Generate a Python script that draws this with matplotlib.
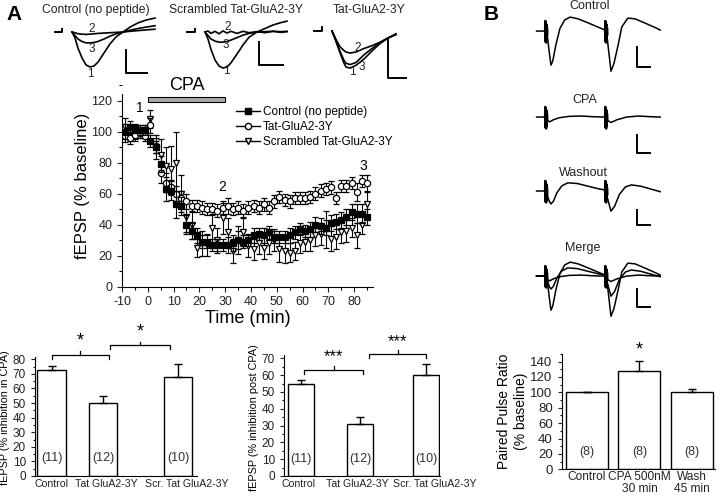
import matplotlib
matplotlib.use('Agg')
import matplotlib.pyplot as plt
from matplotlib.lines import Line2D
from matplotlib.ticker import MultipleLocator

plt.rcParams['font.family'] = ['Liberation Sans', 'DejaVu Sans']
plt.rcParams['axes.unicode_minus'] = False

# ---------------- time course data (A, middle) ----------------
time_min = list(range(-9, 86, 2))
ctrl_vals = [100, 103, 102, 101, 101, 94, 90, 79, 63, 62, 53, 52, 40, 36, 33, 29, 29, 27, 27, 27,
             27, 28, 30, 29, 30, 33, 34, 33, 35, 32, 32, 32, 33, 35, 37, 36, 37, 40, 39, 38,
             41, 42, 43, 45, 48, 47, 47, 45]
ctrl_err = [5, 4, 3, 3, 3, 4, 4, 5, 8, 6, 9, 6, 6, 5, 5, 4, 4, 4, 4, 4,
            5, 5, 6, 4, 4, 5, 4, 5, 4, 4, 4, 4, 5, 4, 4, 4, 5, 5, 5, 5,
            5, 5, 5, 5, 5, 6, 6, 5]
tat_vals = [97, 96, 98, 99, 97, 104, 91, 73, 67, 64, 60, 57, 55, 52, 52, 51, 50, 50, 49, 51,
            52, 50, 51, 49, 51, 52, 51, 53, 51, 55, 58, 56, 55, 57, 57, 57, 58, 60, 62, 63,
            64, 57, 65, 65, 67, 61, 68, 67]
tat_err = [4, 4, 3, 3, 3, 5, 5, 6, 6, 5, 5, 5, 5, 4, 4, 4, 4, 4, 4, 4,
           5, 4, 4, 4, 4, 4, 4, 4, 4, 4, 4, 4, 4, 4, 4, 4, 4, 4, 4, 4,
           4, 4, 4, 4, 4, 6, 4, 5]
scr_vals = [103, 99, 98, 100, 100, 108, 90, 85, 78, 76, 80, 60, 45, 40, 25, 28, 27, 38, 30, 44,
            35, 23, 30, 35, 26, 24, 28, 25, 28, 30, 24, 23, 22, 23, 28, 29, 30, 33, 34, 37,
            31, 32, 35, 36, 38, 33, 40, 53]
scr_err = [6, 5, 4, 4, 4, 6, 8, 10, 12, 15, 20, 12, 10, 9, 6, 8, 7, 9, 8, 10,
           9, 8, 9, 9, 7, 7, 7, 7, 7, 7, 8, 8, 6, 6, 6, 6, 7, 7, 7, 12,
           8, 8, 7, 7, 6, 8, 6, 8]
series_labels = ['Control (no peptide)', 'Tat-GluA2-3Y', 'Scrambled Tat-GluA2-3Y']

# ---------------- bar charts ----------------
bar_groups = ['Control', 'Tat GluA2-3Y', 'Scr. Tat GluA2-3Y']
inhib_in_cpa = [73, 50, 68]
inhib_in_cpa_err = [2.5, 4.5, 9]
inhib_post_cpa = [54.5, 31, 60]
inhib_post_cpa_err = [2.5, 3.8, 6.5]
bar_n = ['(11)', '(12)', '(10)']

ppr_groups = ['Control', 'CPA 500nM\n30 min', 'Wash\n45 min']
ppr_vals = [100, 128, 100]
ppr_err = [0, 13, 5]
ppr_n = ['(8)', '(8)', '(8)']

# ---------------- example traces (A, top): time in ms, voltage in mV ----------------
a_ctrl_t = [0, 0.75, 1.5, 2.5, 3.5, 4.5, 5.5, 6.5, 8, 9.5, 11, 12.75, 14.5, 16.5, 18.5, 20.75]
a_ctrl_1 = [0, -0.17, -0.46, -0.74, -0.94, -1.0, -0.97, -0.86, -0.6, -0.34, -0.14, 0, 0.14, 0.26, 0.34, 0.4]
a_ctrl_2 = [0, -0.02, -0.05, -0.06, -0.07, -0.06, -0.05, -0.04, -0.03, -0.02, -0.01, 0, 0.02, 0.04, 0.06, 0.08]
a_ctrl_3 = [0, -0.1, -0.2, -0.27, -0.31, -0.31, -0.3, -0.27, -0.2, -0.12, -0.05, 0, 0.05, 0.1, 0.14, 0.18]

a_scr_t = [0, 0.75, 1.5, 2.5, 3.5, 4.5, 5.5, 6.5, 8, 9.5, 11, 13, 15, 17, 19, 20.5]
a_scr_1 = [0, -0.2, -0.5, -0.8, -0.97, -1.03, -1.0, -0.88, -0.63, -0.37, -0.15, 0.0, 0.1, 0.2, 0.27, 0.31]
a_scr_2 = [0, 0.03, -0.04, 0.02, -0.05, 0.03, -0.03, 0.02, -0.04, 0.02, -0.02, 0.01, -0.02, 0.02, -0.01, 0.01]
a_scr_3 = [0, -0.1, -0.2, -0.26, -0.29, -0.29, -0.27, -0.23, -0.16, -0.09, -0.04, 0, 0.01, 0.02, 0.01, 0.02]

a_tat_t = [0, 1, 2, 3, 3.5, 4.5, 6, 8, 10, 12, 14, 16]
a_tat_1 = [0, -0.3, -0.62, -0.92, -1.03, -1.06, -0.98, -0.8, -0.57, -0.36, -0.2, -0.08]
a_tat_2 = [0, -0.24, -0.45, -0.56, -0.6, -0.63, -0.6, -0.5, -0.42, -0.32, -0.2, -0.1]
a_tat_3 = [0, -0.28, -0.58, -0.84, -0.92, -0.96, -0.9, -0.68, -0.5, -0.34, -0.2, -0.1]

# ---------------- paired-pulse traces (B): time in ms, voltage in mV ----------------
stim_times = [0, 50]
artifact_dt = [0, 0.25, 0.5, 0.75, 1.0, 1.25, 1.5, 1.75, 2.0]
artifact_v = [0, 0.3, -0.32, 0.25, -0.34, 0.2, -0.26, 0.1, -0.1]

b_ctrl_t = [-7, 0, 2, 3.5, 5, 6.5, 9, 12.5, 16.5, 21, 27.5, 36, 44, 50, 52, 55, 57.5, 61, 64, 69, 75, 83, 92, 96]
b_ctrl_v = [0, 0, -0.15, -0.6, -1.0, -0.88, -0.42, 0.08, 0.33, 0.41, 0.36, 0.24, 0.12, 0.03,
            -0.25, -1.18, -0.95, -0.4, 0.12, 0.38, 0.36, 0.24, 0.1, 0.03]
b_cpa_t = [-7, 0, 2, 4, 7, 12, 20, 30, 40, 50, 52, 55, 60, 68, 78, 88, 96]
b_cpa_v = [0, 0, -0.1, -0.14, -0.08, -0.02, 0.02, 0.03, 0.01, 0, -0.1, -0.16, -0.08, 0.0, 0.03, 0.01, 0]
b_wash_t = [-7, 0, 2, 3.5, 5, 7, 10, 14, 19, 27, 36, 44, 50, 52, 55, 58, 62, 67, 72, 80, 88, 96]
b_wash_v = [0, 0, -0.12, -0.3, -0.38, -0.3, -0.05, 0.15, 0.24, 0.22, 0.14, 0.07, 0.03,
            -0.2, -0.59, -0.45, -0.1, 0.12, 0.18, 0.14, 0.06, -0.02]

W, H = 720, 496
fig = plt.figure(figsize=(W / 100, H / 100), dpi=100)


def px_axes(x0, y0, x1, y1):
    return fig.add_axes([x0 / W, 1 - y1 / H, (x1 - x0) / W, (y1 - y0) / H])


def ftext(x, y, s, **kw):
    fig.text(x / W, 1 - y / H, s, **kw)


# ================= A: traces =================
def trace_inset(box, xlim, ylim, t, traces, nums, stim, bar):
    ax = px_axes(*box)
    ax.set_xlim(*xlim)
    ax.set_ylim(*ylim)
    ax.axis('off')
    for tr in traces:
        ax.plot(t, tr, color='black', lw=1.2)
    for (s, x, y) in nums:
        ax.text(x, y, s, fontsize=8.5, ha='center', va='center', color='#222222')
    sx0, sx1, sy0, sy1 = stim
    ax.plot([sx0, sx1, sx1], [0, 0, sy1], color='black', lw=1.4)
    bx0, bx1, by0, by1 = bar
    ax.plot([bx0, bx0, bx1], [by1, by0, by0], color='black', lw=1.4)
    return ax

trace_inset((50, 15, 160, 80), (-5.5, 22), (-1.371, 0.486), a_ctrl_t,
            [a_ctrl_1, a_ctrl_2, a_ctrl_3],
            [('1', 4.5, -1.2), ('2', 5, 0.1), ('3', 5, -0.49)],
            (-4.25, -2.5, 0, 0.1), (13.5, 18.75, -1.17, -0.51))
trace_inset((183, 15, 293, 80), (-5.5, 22), (-1.371, 0.486), a_scr_t,
            [a_scr_1, a_scr_2, a_scr_3],
            [('1', 5.25, -1.1), ('2', 5.75, 0.14), ('3', 5.25, -0.37)],
            (-4.5, -2.5, 0, 0.1), (13.5, 19.5, -0.94, -0.29))
trace_inset((310, 15, 410, 80), (-5.5, 19.5), (-1.4, 0.457), a_tat_t,
            [a_tat_1, a_tat_2, a_tat_3],
            [('1', 5, -1.17), ('2', 6.5, -0.49), ('3', 7.5, -1.03)],
            (-4.5, -2.5, 0, 0.1), (14, 18.5, -1.34, -0.26))

ftext(96, 10, 'Control (no peptide)', fontsize=8.7, ha='center', va='center', color='#222222')
ftext(236, 10, 'Scrambled Tat-GluA2-3Y', fontsize=8.7, ha='center', va='center', color='#222222')
ftext(333, 10, 'Tat-GluA2-3Y', fontsize=8.7, ha='left', va='center', color='#222222')
ftext(14, 14, 'A', fontsize=15, fontweight='bold', ha='center', va='center')
ftext(491, 14, 'B', fontsize=15, fontweight='bold', ha='center', va='center')

# ================= A: time course =================
ax = px_axes(122, 85, 373, 286.7)
ax.set_xlim(-10, 87.3)
ax.set_ylim(0, 130)
ek = dict(ecolor='black', elinewidth=0.8, capsize=2, capthick=0.8, ls='none', ms=4.5, mew=0.9)
ax.errorbar(time_min, scr_vals, yerr=scr_err, fmt='v', mfc='white', mec='black', zorder=3, **ek)
ax.errorbar(time_min, tat_vals, yerr=tat_err, fmt='o', mfc='white', mec='black', zorder=4, **ek)
ax.errorbar(time_min, ctrl_vals, yerr=ctrl_err, fmt='s', mfc='black', mec='black', zorder=5, **ek)
for s in ['top', 'right']:
    ax.spines[s].set_visible(False)
ax.spines['left'].set_bounds(0, 124)
ax.set_xticks(range(-10, 81, 10))
ax.set_yticks(range(0, 121, 20))
ax.xaxis.set_minor_locator(MultipleLocator(5))
ax.yaxis.set_minor_locator(MultipleLocator(10))
ax.tick_params(labelsize=9, length=3.5, width=0.8, colors='#222222')
ax.tick_params(which='minor', length=2, width=0.8)
ax.set_xlabel('Time (min)', fontsize=13, labelpad=1)
ax.set_ylabel('fEPSP (% baseline)', fontsize=12, labelpad=1)
# CPA application bar
ax.add_patch(plt.Rectangle((0, 119), 30, 3.5, facecolor='#aaaaaa', edgecolor='black', lw=0.8, clip_on=False))
ax.text(15, 124, 'CPA', fontsize=13, ha='center', va='bottom')
ax.text(-3, 115, '1', fontsize=10, ha='center', va='center')
ax.text(29, 64, '2', fontsize=10, ha='center', va='center')
ax.text(83.5, 78, '3', fontsize=10, ha='center', va='center')
handles = [
    Line2D([], [], color='black', lw=1, marker='s', mfc='black', mec='black', ms=4.5),
    Line2D([], [], color='black', lw=1, marker='o', mfc='white', mec='black', ms=4.5),
    Line2D([], [], color='black', lw=1, marker='v', mfc='white', mec='black', ms=4.5),
]
fig.legend(handles, series_labels, loc='upper left', bbox_to_anchor=(236 / W, 1 - 106 / H),
           frameon=False, fontsize=8.5, handlelength=2.0, handletextpad=0.3,
           labelspacing=0.25, borderaxespad=0, borderpad=0)

# ================= A / B: bar charts =================
def bracket(ax, x1, x2, y, d, star, ys, fs):
    xm = (x1 + x2) / 2
    ax.plot([x1, x1, x2, x2], [y - d, y, y, y - d], color='black', lw=0.9, clip_on=False)
    ax.plot([xm, xm], [y, y + d], color='black', lw=0.9, clip_on=False)
    ax.text(xm, ys, star, fontsize=fs, ha='center', va='center', clip_on=False)


def bar_chart(box, pos, vals, errs, width, xlim, ylim, ystep, labels, label_pos, ns, ny,
              ylabel, ylabfs, tickfs, xlabfs):
    ax = px_axes(*box)
    ax.bar(pos, vals, width=width, color='white', edgecolor='black', lw=1.0, zorder=2)
    low = [0 for _ in errs]
    ax.errorbar(pos, vals, yerr=[low, errs], fmt='none', ecolor='black', elinewidth=1.0,
                capsize=3, capthick=1.0, zorder=3)
    ax.set_xlim(*xlim)
    ax.set_ylim(*ylim)
    for s in ['top', 'right']:
        ax.spines[s].set_visible(False)
    ax.set_yticks(range(0, int(ylim[1]) + 1, ystep))
    ax.yaxis.set_minor_locator(MultipleLocator(ystep / 2))
    ax.set_xticks(label_pos)
    ax.set_xticklabels(labels, fontsize=xlabfs, linespacing=1.05)
    ax.tick_params(axis='x', length=0, pad=2)
    ax.tick_params(axis='y', labelsize=tickfs, width=0.8, length=3)
    ax.tick_params(colors='#222222')
    ax.tick_params(which='minor', length=1.5, width=0.8)
    for p, n in zip(pos, ns):
        ax.text(p, ny, n, fontsize=9, ha='center', va='center', color='#333333')
    ax.set_ylabel(ylabel, fontsize=ylabfs, labelpad=2)
    return ax

axl = bar_chart((35, 359.3, 196.7, 476), [0, 0.99, 2.43], inhib_in_cpa, inhib_in_cpa_err, 0.55,
                (-0.32, 2.79), (0, 80), 10, bar_groups, [0, 1.06, 2.6], bar_n, 12,
                'fEPSP (% inhibition in CPA)', 7.8, 8.5, 7.6)
axl.spines['left'].set_bounds(0, 81.5)
bracket(axl, 0, 1.1, 83, 2.5, '*', 92.5, 13)
bracket(axl, 1.12, 2.28, 89.5, 2.5, '*', 99, 13)

axr = bar_chart((284, 358.3, 440.4, 476), [0, 1, 2.12], inhib_post_cpa, inhib_post_cpa_err, 0.44,
                (-0.29, 2.36), (0, 70), 10, bar_groups, [-0.05, 0.95, 2.27], bar_n, 10,
                'fEPSP (% inhibition post CPA)', 7.8, 8.5, 7.6)
axr.spines['left'].set_bounds(0, 72)
bracket(axr, 0.05, 1.05, 63, 2.2, '***', 71, 12)
bracket(axr, 1.15, 2.12, 72.5, 2.2, '***', 80, 12)

# ================= B: traces =================
def pp_inset(box, ylim, traces, bar):
    ax = px_axes(*box)
    ax.set_xlim(-8.3, 100)
    ax.set_ylim(*ylim)
    ax.axis('off')
    for t, v in traces:
        ax.plot(t, v, color='black', lw=1.1)
    for st in stim_times:
        ax.plot([st + d for d in artifact_dt], artifact_v, color='black', lw=1.6)
    bx0, bx1, by0, by1 = bar
    ax.plot([bx0, bx0, bx1], [by1, by0, by0], color='black', lw=1.4)

pp_inset((535, 12, 665, 75), (-1.29, 0.56), [(b_ctrl_t, b_ctrl_v)], (76.7, 87.5, -1.06, -0.47))
pp_inset((535, 100, 665, 160), (-1.26, 0.5), [(b_cpa_t, b_cpa_v)], (76.7, 87.5, -1.06, -0.53))
pp_inset((535, 175, 665, 235), (-1.29, 0.47), [(b_wash_t, b_wash_v)], (76.7, 87.5, -1.0, -0.56))
pp_inset((535, 255, 665, 320), (-1.29, 0.62),
         [(b_ctrl_t, b_ctrl_v), (b_wash_t, b_wash_v), (b_cpa_t, b_cpa_v)], (76.7, 87.5, -0.91, -0.38))
ftext(590, 6, 'Control', fontsize=9, ha='center', va='center', color='#222222')
ftext(585, 100, 'CPA', fontsize=9, ha='center', va='center', color='#222222')
ftext(583, 173, 'Washout', fontsize=9, ha='center', va='center', color='#222222')
ftext(583, 248, 'Merge', fontsize=9, ha='center', va='center', color='#222222')

# ================= B: paired pulse ratio =================
axb = bar_chart((561.7, 353.9, 715, 469.3), [0, 1, 2], ppr_vals, ppr_err, 0.8,
                (-0.48, 2.44), (0, 150), 20, ppr_groups, [0, 1, 2], ppr_n, 23,
                'Paired Pulse Ratio\n(% baseline)', 10, 9.5, 8.6)
axb.tick_params(axis='x', pad=1)
axb.spines['left'].set_bounds(0, 150)
axb.text(1, 155, '*', fontsize=13, ha='center', va='center', clip_on=False)

fig.savefig('out.png', dpi=100)
